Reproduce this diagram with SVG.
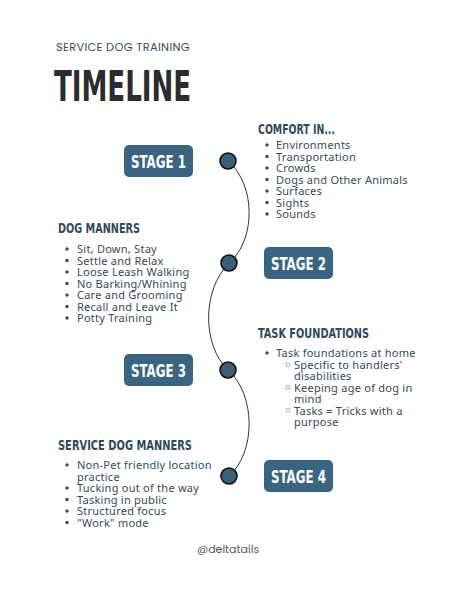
<svg xmlns="http://www.w3.org/2000/svg" width="474" height="592" viewBox="0 0 474 592">
<style>
.bg{fill:#ffffff}
.sub{font-family:"Poppins","Noto Sans","Liberation Sans",sans-serif;font-size:11px;fill:#3a4b55;letter-spacing:0.3px}
.title{font-family:"DejaVu Sans Condensed","Liberation Sans Narrow",sans-serif;font-weight:bold;font-size:42px;fill:#2a2c2e}
.head{font-family:"DejaVu Sans Condensed","Liberation Sans Narrow",sans-serif;font-weight:bold;font-size:14px;fill:#2f4a5a}
.body{font-family:"Noto Sans","Liberation Sans",sans-serif;font-size:11px;fill:#34495a;letter-spacing:0.25px}
.box{fill:#3b6480}
.stxt{font-family:"DejaVu Sans Condensed","Liberation Sans Narrow",sans-serif;font-weight:bold;font-size:17px;fill:#ffffff;text-anchor:middle}
.dot{fill:#3e5f78;stroke:#111111;stroke-width:1.6}
.line{fill:none;stroke:#333333;stroke-width:1}
.bul{fill:#34495a}
.sbul{fill:none;stroke:#8a99a3;stroke-width:0.8}
.tag{font-family:"Poppins","Noto Sans","Liberation Sans",sans-serif;font-size:11px;fill:#4a5a66}
</style>
<rect class="bg" x="0" y="0" width="474" height="592"/>
<text class="sub" x="56" y="51" textLength="134" lengthAdjust="spacingAndGlyphs">SERVICE DOG TRAINING</text>
<text class="title" x="54" y="101" textLength="137" lengthAdjust="spacingAndGlyphs">TIMELINE</text>

<g id="connectors">
<path class="line" d="M228,161 C256,185 256,240 229,263 C202,290 202,345 228,370 C256,395 256,452 229,476"/>
</g>

<g id="stage1">
<rect class="box" x="124" y="145" width="69" height="32" rx="5"/>
<text class="stxt" x="158.5" y="168" textLength="55" lengthAdjust="spacingAndGlyphs">STAGE 1</text>
<circle class="dot" cx="228" cy="161" r="8"/>
</g>
<g id="stage2">
<rect class="box" x="264" y="247" width="69" height="32" rx="5"/>
<text class="stxt" x="298.5" y="270" textLength="55" lengthAdjust="spacingAndGlyphs">STAGE 2</text>
<circle class="dot" cx="229" cy="263" r="8"/>
</g>
<g id="stage3">
<rect class="box" x="124" y="354" width="69" height="32" rx="5"/>
<text class="stxt" x="158.5" y="377" textLength="55" lengthAdjust="spacingAndGlyphs">STAGE 3</text>
<circle class="dot" cx="228" cy="370" r="8"/>
</g>
<g id="stage4">
<rect class="box" x="264" y="460" width="69" height="32" rx="5"/>
<text class="stxt" x="298.5" y="483" textLength="55" lengthAdjust="spacingAndGlyphs">STAGE 4</text>
<circle class="dot" cx="229" cy="476" r="8"/>
</g>

<g id="comfort">
<text class="head" x="258" y="134" textLength="77" lengthAdjust="spacingAndGlyphs">COMFORT IN...</text>
<g class="bul">
<circle cx="267" cy="145" r="1.7"/><circle cx="267" cy="156.5" r="1.7"/><circle cx="267" cy="168" r="1.7"/><circle cx="267" cy="179.5" r="1.7"/><circle cx="267" cy="191" r="1.7"/><circle cx="267" cy="202.5" r="1.7"/><circle cx="267" cy="214" r="1.7"/>
</g>
<text class="body" x="276" y="149">Environments</text>
<text class="body" x="276" y="160.5">Transportation</text>
<text class="body" x="276" y="172">Crowds</text>
<text class="body" x="276" y="183.5">Dogs and Other Animals</text>
<text class="body" x="276" y="195">Surfaces</text>
<text class="body" x="276" y="206.5">Sights</text>
<text class="body" x="276" y="218">Sounds</text>
</g>

<g id="dogmanners">
<text class="head" x="58" y="233" textLength="82" lengthAdjust="spacingAndGlyphs">DOG MANNERS</text>
<g class="bul">
<circle cx="67" cy="249" r="1.7"/><circle cx="67" cy="260.5" r="1.7"/><circle cx="67" cy="272" r="1.7"/><circle cx="67" cy="283.5" r="1.7"/><circle cx="67" cy="295" r="1.7"/><circle cx="67" cy="306.5" r="1.7"/><circle cx="67" cy="318" r="1.7"/>
</g>
<text class="body" x="77" y="253">Sit, Down, Stay</text>
<text class="body" x="77" y="264.5">Settle and Relax</text>
<text class="body" x="77" y="276">Loose Leash Walking</text>
<text class="body" x="77" y="287.5">No Barking/Whining</text>
<text class="body" x="77" y="299">Care and Grooming</text>
<text class="body" x="77" y="310.5">Recall and Leave It</text>
<text class="body" x="77" y="322">Potty Training</text>
</g>

<g id="taskfoundations">
<text class="head" x="258" y="338" textLength="111" lengthAdjust="spacingAndGlyphs">TASK FOUNDATIONS</text>
<circle class="bul" cx="267" cy="353" r="1.7"/>
<text class="body" x="276" y="357">Task foundations at home</text>
<g>
<circle class="sbul" cx="288" cy="364.5" r="1.9"/>
<circle class="sbul" cx="288" cy="387.5" r="1.9"/>
<circle class="sbul" cx="288" cy="410.5" r="1.9"/>
</g>
<text class="body" x="294" y="368.5">Specific to handlers'</text>
<text class="body" x="294" y="380">disabilities</text>
<text class="body" x="294" y="391.5">Keeping age of dog in</text>
<text class="body" x="294" y="403">mind</text>
<text class="body" x="294" y="414.5">Tasks = Tricks with a</text>
<text class="body" x="294" y="426">purpose</text>
</g>

<g id="servicedogmanners">
<text class="head" x="58" y="450" textLength="134" lengthAdjust="spacingAndGlyphs">SERVICE DOG MANNERS</text>
<g class="bul">
<circle cx="67" cy="465" r="1.7"/><circle cx="67" cy="488" r="1.7"/><circle cx="67" cy="499.5" r="1.7"/><circle cx="67" cy="511" r="1.7"/><circle cx="67" cy="522.5" r="1.7"/>
</g>
<text class="body" x="77" y="469">Non-Pet friendly location</text>
<text class="body" x="77" y="480.5">practice</text>
<text class="body" x="77" y="492">Tucking out of the way</text>
<text class="body" x="77" y="503.5">Tasking in public</text>
<text class="body" x="77" y="515">Structured focus</text>
<text class="body" x="77" y="526.5">"Work" mode</text>
</g>

<text class="tag" x="197" y="553">@deltatails</text>
</svg>
